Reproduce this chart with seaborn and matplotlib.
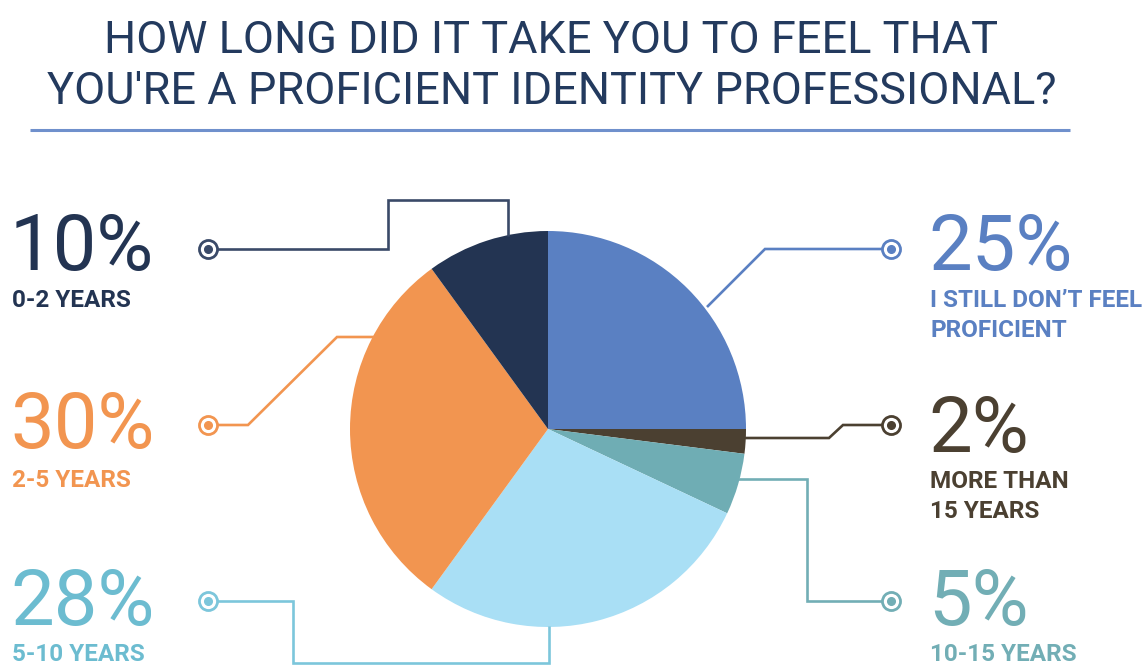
import matplotlib
matplotlib.use("Agg")
import matplotlib.pyplot as plt
import seaborn as sns

# Survey answers, clockwise from 12 o'clock
categories = ["I STILL DON\u2019T FEEL\nPROFICIENT", "MORE THAN\n15 YEARS", "10-15 YEARS",
              "5-10 YEARS", "2-5 YEARS", "0-2 YEARS"]
shares = [25, 2, 5, 28, 30, 10]
pct_labels = ["25%", "2%", "5%", "28%", "30%", "10%"]

slice_colors = ["#5A80C2", "#4B4031", "#6FADB4", "#A9DFF5", "#F29550", "#233452"]
text_colors = ["#5A80C2", "#4B4031", "#72AEB5", "#6CBCD0", "#F29550", "#233452"]

sns.set_theme(style="white")
plt.rcParams["font.family"] = ["Roboto", "DejaVu Sans"]

W, H = 1146, 665
fig = plt.figure(figsize=(W / 100, H / 100), dpi=100)
ax = fig.add_axes([0, 0, 1, 1])

palette = sns.color_palette(slice_colors)
CX, CY, R = 548, 429, 198
ax.pie(shares, colors=palette, startangle=-90, counterclock=True,
       center=(CX, CY), radius=R, wedgeprops=dict(linewidth=0))

ax.set_xlim(0, W)
ax.set_ylim(H, 0)
ax.set_aspect("equal")
ax.axis("off")

# Title and rule
title_color = "#233A5E"
ax.text(551, 53, "HOW LONG DID IT TAKE YOU TO FEEL THAT", ha="center", va="baseline",
        fontsize=32.5, color=title_color)
ax.text(552, 104, "YOU'RE A PROFICIENT IDENTITY PROFESSIONAL?", ha="center", va="baseline",
        fontsize=32.5, color=title_color)
ax.plot([30, 1070], [130, 130], color="#6F90CC", lw=2.2, solid_capstyle="butt")

# Leader routes (label dot -> wedge)
routes = [
    [(891, 249), (765, 249), (707, 307)],
    [(891, 425), (843, 425), (829, 438), (745, 438)],
    [(891, 601), (807, 601), (807, 479), (738, 479)],
    [(208, 601), (293, 601), (293, 663), (549, 663), (549, 626)],
    [(208, 425), (248, 425), (337, 337), (378, 337)],
    [(208, 249), (388, 249), (388, 200), (508, 200), (508, 236)],
]
line_colors = ["#5A80C2", "#4B4031", "#72AEB5", "#7CC6DB", "#F29550", "#3A4A68"]

for pts, col in zip(routes, line_colors):
    xs, ys = zip(*pts)
    ax.plot(xs, ys, color=col, lw=1.9, solid_joinstyle="miter", solid_capstyle="butt", zorder=1)
    ax.plot(xs[0], ys[0], "o", ms=13, mfc="white", mec=col, mew=2.0, zorder=3)
    ax.plot(xs[0], ys[0], "o", ms=5.5, mfc=col, mec=col, zorder=4)

# Label blocks: (x, percent baseline, first sub-label baseline)
label_pos = [(930, 270, 307), (930, 452, 488), (930, 625, 661),
             (12, 625, 661), (12, 448, 487), (12, 270, 307)]

for (x, yb, ys), pct, cat, col in zip(label_pos, pct_labels, categories, text_colors):
    ax.text(x - 2, yb, pct, ha="left", va="baseline", fontsize=56, fontweight="normal", color=col)
    for i, line in enumerate(cat.split("\n")):
        ax.text(x, ys + i * 30, line, ha="left", va="baseline", fontsize=17.5,
                fontweight="bold", color=col)

fig.savefig("out.png", dpi=100, facecolor="white")
